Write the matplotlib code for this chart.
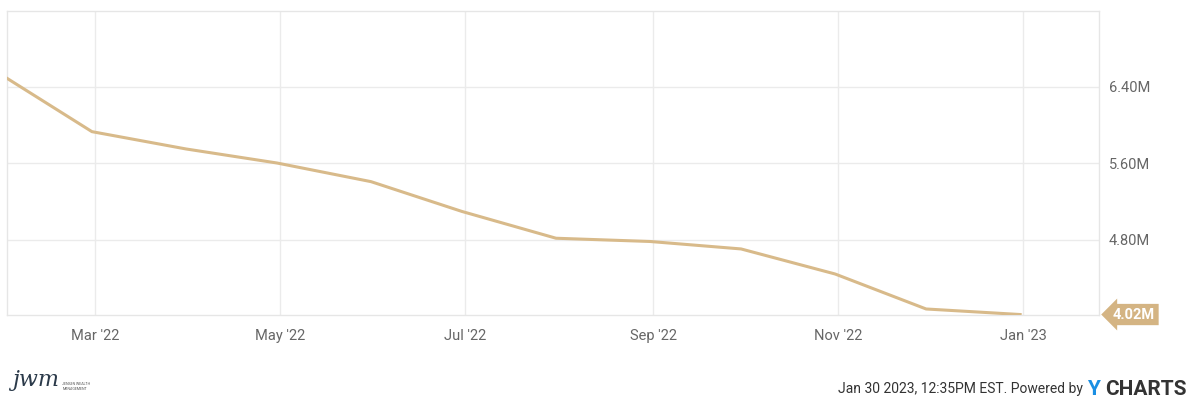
import matplotlib as mpl
import matplotlib.pyplot as plt
import pandas as pd

# month-end values, millions
dates = pd.to_datetime([
    "2022-01-31", "2022-02-28", "2022-03-31", "2022-04-30", "2022-05-31", "2022-06-30",
    "2022-07-31", "2022-08-31", "2022-09-30", "2022-10-31", "2022-11-30", "2022-12-31",
])
values = [6.491, 5.933, 5.752, 5.605, 5.410, 5.098, 4.818, 4.784, 4.706, 4.444, 4.078, 4.020]

y_ticks = [4.80, 5.60, 6.40]
y_tick_labels = ["4.80M", "5.60M", "6.40M"]
x_ticks = pd.to_datetime(["2022-03-01", "2022-05-01", "2022-07-01", "2022-09-01", "2022-11-01", "2023-01-01"])
x_tick_labels = ["Mar '22", "May '22", "Jul '22", "Sep '22", "Nov '22", "Jan '23"]
last_label = "4.02M"

LINE = "#D8BA8A"
GRID = "#EBEBEB"
TEXT = "#666666"

mpl.rcParams.update({"font.family": ["Roboto", "DejaVu Sans"]})

fig = plt.figure(figsize=(12, 4.04), dpi=100)
ax = fig.add_axes([7 / 1200, 1 - 315 / 404, (1099 - 7) / 1200, (315 - 11) / 404])

ax.plot(dates, values, color=LINE, lw=2.2, solid_joinstyle="round", zorder=3)

ax.set_xlim(pd.Timestamp("2022-01-31"), pd.Timestamp("2023-01-26"))
ax.set_ylim(4.015, 7.195)

ax.set_xticks(x_ticks)
ax.set_xticklabels(x_tick_labels)
ax.set_yticks(y_ticks)
ax.set_yticklabels(y_tick_labels)
ax.yaxis.tick_right()
ax.tick_params(axis="both", length=0, labelsize=10.5, colors=TEXT)
ax.tick_params(axis="x", pad=10)
ax.tick_params(axis="y", pad=7)
ax.grid(True, color=GRID, lw=1)
for side in ["top", "bottom", "left", "right"]:
    ax.spines[side].set_color("#E6E6E6")
    ax.spines[side].set_linewidth(1)
ax.set_facecolor("white")

# last value flag
ax.annotate(
    last_label, xy=(1.0, values[-1]), xycoords=("axes fraction", "data"),
    xytext=(10, 0), textcoords="offset points", ha="left", va="center",
    fontsize=10.5, fontweight="bold", color="white",
    bbox=dict(boxstyle="larrow,pad=0.25", fc="#D4B483", ec="none"),
    annotation_clip=False,
)

# footer
fig.text(0.010, 0.045, "jwm", fontsize=16, style="italic", family="DejaVu Serif", color="#2B3A4A")
fig.text(0.052, 0.035, "JENSEN WEALTH\nMANAGEMENT", fontsize=2.6, color="#555555", linespacing=1.2)
fig.text(1083 / 1200, 0.028, "Jan 30 2023, 12:35PM EST. Powered by", fontsize=10, color="#333333", ha="right")
fig.text(1087 / 1200, 0.022, "Y", fontsize=15, fontweight="bold", color="#1A8FE3")
fig.text(1105 / 1200, 0.022, "CHARTS", fontsize=15, fontweight="bold", color="#333333")

fig.savefig("out.png", dpi=100, facecolor="white")
